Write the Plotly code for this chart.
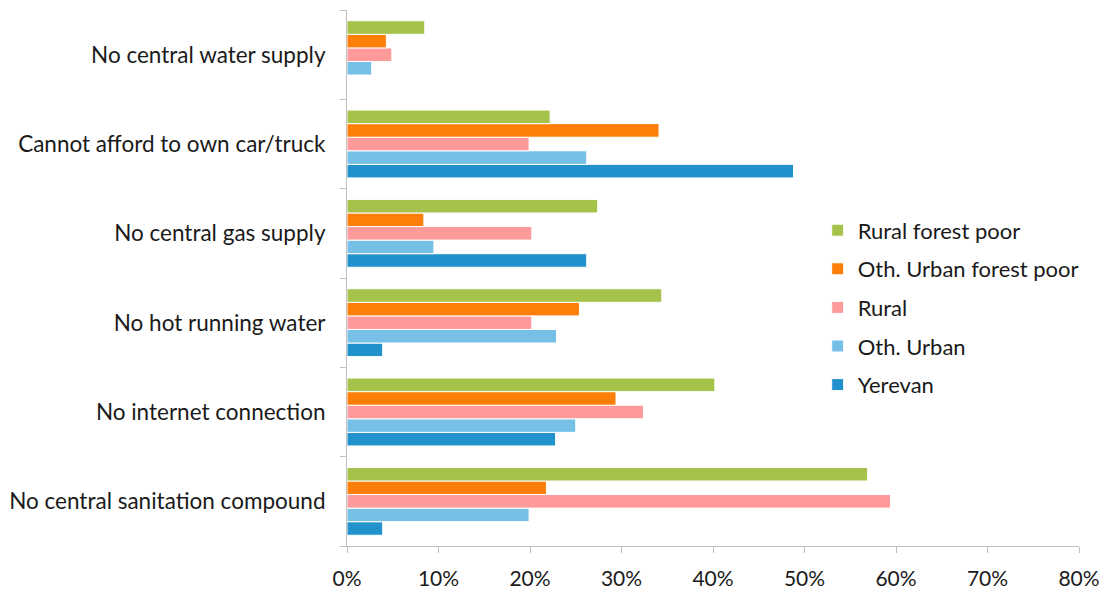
import plotly.graph_objects as go

# Categories, bottom to top
categories = [
    "No central sanitation compound",
    "No internet connection",
    "No hot running water",
    "No central gas supply",
    "Cannot afford to own car/truck",
    "No central water supply",
]

# Shares of households per group (same order as categories)
yerevan = [0.039, 0.228, 0.039, 0.262, 0.488, None]
oth_urban = [0.199, 0.250, 0.229, 0.095, 0.262, 0.027]
rural = [0.594, 0.324, 0.202, 0.202, 0.199, 0.049]
oth_urban_forest_poor = [0.218, 0.294, 0.254, 0.084, 0.341, 0.043]
rural_forest_poor = [0.569, 0.402, 0.344, 0.274, 0.222, 0.085]

series = [
    ("Yerevan", yerevan, "#2192cb"),
    ("Oth. Urban", oth_urban, "#76c0e8"),
    ("Rural", rural, "#fe9a9a"),
    ("Oth. Urban forest poor", oth_urban_forest_poor, "#fd7e08"),
    ("Rural forest poor", rural_forest_poor, "#a5c24a"),
]

fig = go.Figure()
n = len(series)
for i, (name, vals, color) in enumerate(series):
    fig.add_trace(go.Bar(
        y=categories, x=vals, name=name, orientation="h",
        marker=dict(color=color, line=dict(color="white", width=1)),
        legendgroup=name,
        legendrank=(n - i) * 100,
    ))

font_family = "Lato, 'Open Sans', sans-serif"
fig.update_layout(
    width=1102, height=590,
    paper_bgcolor="white", plot_bgcolor="white",
    margin=dict(l=347, r=23, t=10, b=44, autoexpand=False),
    barmode="group", bargap=0.24, bargroupgap=0,
    font=dict(family=font_family, size=22, color="#1a1a1a"),
    legend=dict(
        x=0.643, y=0.628, xanchor="left", yanchor="top",
        traceorder="grouped", tracegroupgap=7,
        font=dict(size=22, color="#1a1a1a"),
        bgcolor="rgba(0,0,0,0)",
        itemwidth=30,
    ),
    xaxis=dict(
        range=[0, 0.8], dtick=0.1, tick0=0, tickformat=".0%",
        showgrid=False, zeroline=False,
        showline=True, linecolor="#bfbfbf", linewidth=1,
        ticks="outside", ticklen=6, tickcolor="#bfbfbf",
        tickfont=dict(size=21),
        ticklabelstandoff=8,
        automargin=False,
    ),
    yaxis=dict(
        categoryorder="array", categoryarray=categories,
        showgrid=False, zeroline=False,
        showline=True, linecolor="#bfbfbf", linewidth=1,
        ticks="outside", ticklen=6, tickcolor="#bfbfbf",
        tickson="boundaries",
        tickfont=dict(size=22.5),
        ticklabelstandoff=16,
        automargin=False,
    ),
)

fig.write_html("out.html")
